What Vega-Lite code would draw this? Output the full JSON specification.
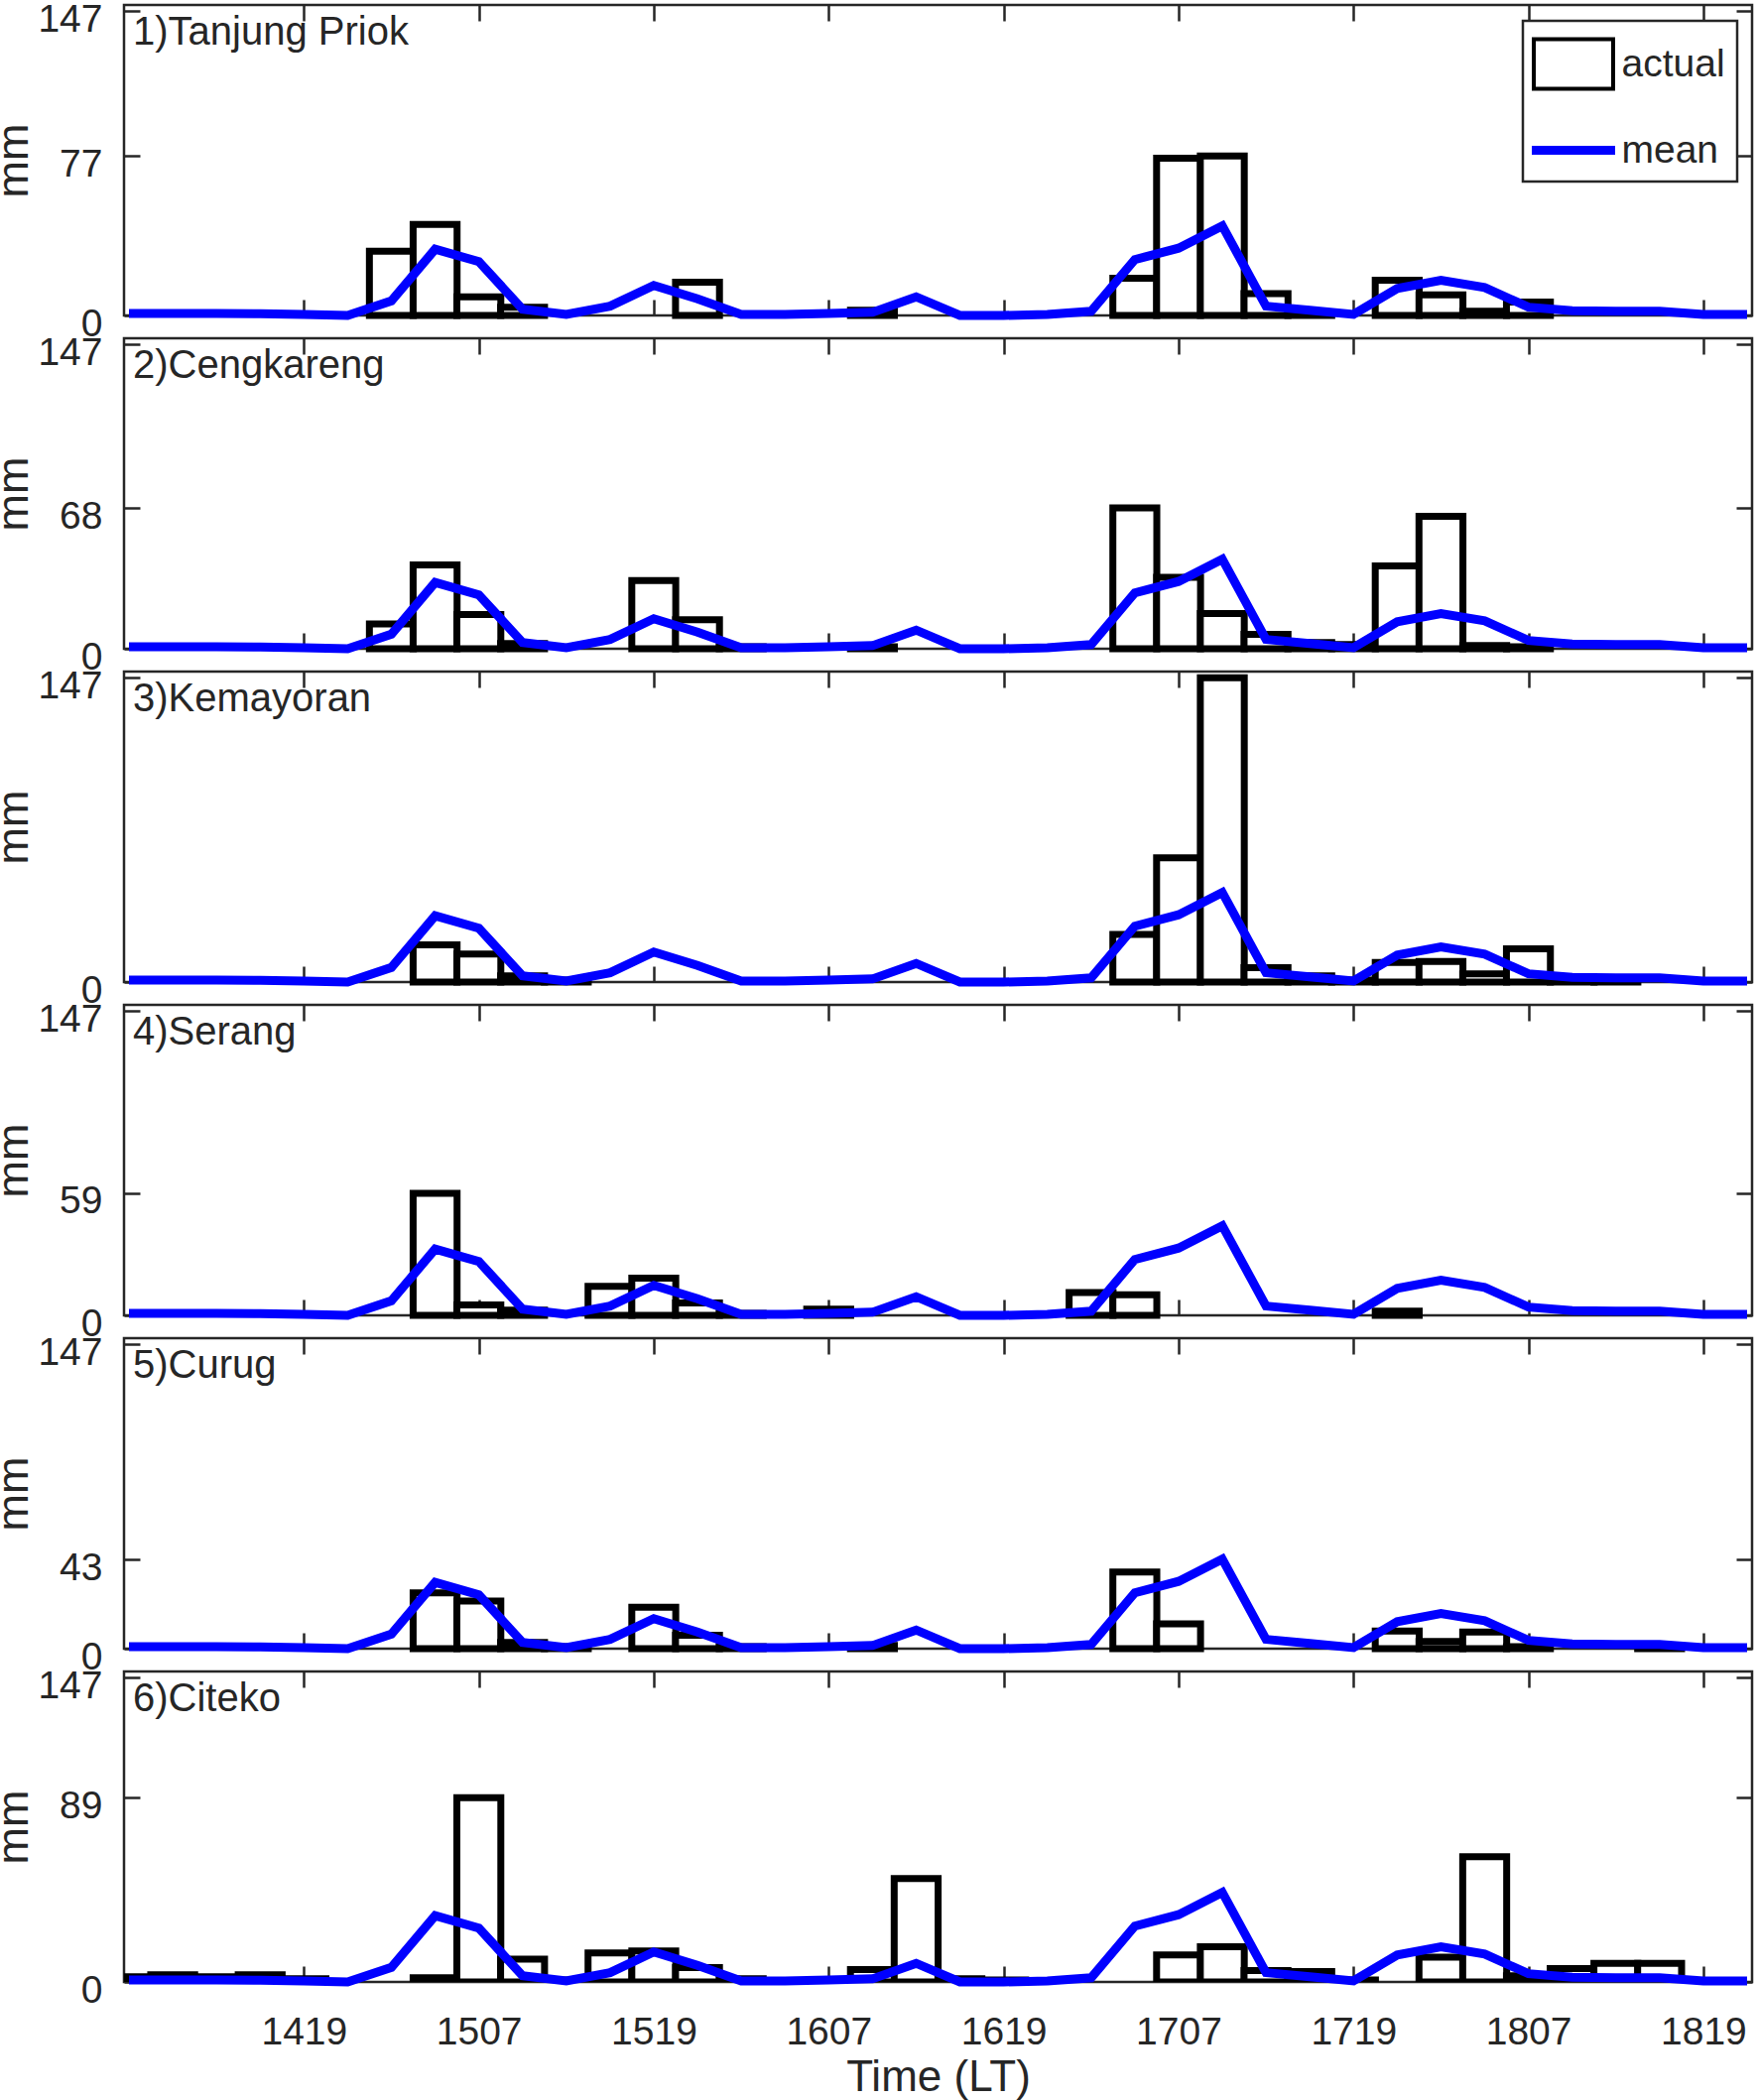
{
  "$schema": "https://vega.github.io/schema/vega-lite/v6.json",
  "background": "white",
  "padding": {"left": -10, "top": -1, "right": 0, "bottom": 0},
  "bounds": "flush",
  "spacing": 23,
  "config": {
    "font": "Liberation Sans",
    "view": {"stroke": "#262626", "strokeWidth": 2.5},
    "axis": {"domain": false, "grid": false, "tickSize": -16, "tickWidth": 2.5, "tickColor": "#262626", "labelFont": "Liberation Sans", "labelFontSize": 39, "labelColor": "#262626", "titleFont": "Liberation Sans", "titleFontSize": 45, "titleFontWeight": "normal", "titleColor": "#262626"},
    "axisLeft": {"labelPadding": 38, "labelOffset": 8, "titlePadding": 1},
    "axisBottom": {"labelPadding": 47, "titlePadding": 4, "titleFontSize": 44},
    "text": {"font": "Liberation Sans"}
  },
  "resolve": {"legend": {"stroke": "independent"}, "scale": {"stroke": "independent"}},
  "datasets": {
    "mean": [{"t":7,"v":1},{"t":10,"v":1},{"t":13,"v":1},{"t":16,"v":0.8},{"t":19,"v":0.5},{"t":22,"v":0},{"t":25,"v":7},{"t":28,"v":32},{"t":31,"v":26},{"t":34,"v":3},{"t":37,"v":0.5},{"t":40,"v":4.5},{"t":43,"v":14.5},{"t":46,"v":8},{"t":49,"v":0.5},{"t":52,"v":0.5},{"t":55,"v":1},{"t":58,"v":1.5},{"t":61,"v":9},{"t":64,"v":0},{"t":67,"v":0},{"t":70,"v":0.5},{"t":73,"v":2},{"t":76,"v":27},{"t":79,"v":32.5},{"t":82,"v":43.3},{"t":85,"v":4.5},{"t":88,"v":2.5},{"t":91,"v":0.5},{"t":94,"v":13},{"t":97,"v":17},{"t":100,"v":13.5},{"t":103,"v":4},{"t":106,"v":2.3},{"t":109,"v":2},{"t":112,"v":2},{"t":115,"v":0.5},{"t":118,"v":0.5}],
    "p1": [{"t":25,"v":31},{"t":28,"v":44},{"t":31,"v":9},{"t":34,"v":4},{"t":46,"v":16},{"t":58,"v":2.5},{"t":76,"v":18},{"t":79,"v":76},{"t":82,"v":77},{"t":85,"v":10.5},{"t":88,"v":1.5},{"t":94,"v":17},{"t":97,"v":10},{"t":100,"v":2},{"t":103,"v":6.5}],
    "p2": [{"t":25,"v":12},{"t":28,"v":40.5},{"t":31,"v":16.5},{"t":34,"v":2.5},{"t":43,"v":33},{"t":46,"v":14},{"t":49,"v":1},{"t":58,"v":1},{"t":76,"v":68},{"t":79,"v":34.5},{"t":82,"v":17},{"t":85,"v":7},{"t":88,"v":3},{"t":91,"v":2},{"t":94,"v":40},{"t":97,"v":64},{"t":100,"v":1.5},{"t":103,"v":1}],
    "p3": [{"t":28,"v":18},{"t":31,"v":13.5},{"t":34,"v":3},{"t":37,"v":1},{"t":76,"v":23},{"t":79,"v":60},{"t":82,"v":147},{"t":85,"v":7},{"t":88,"v":3},{"t":91,"v":1},{"t":94,"v":9.5},{"t":97,"v":10},{"t":100,"v":4},{"t":103,"v":16},{"t":106,"v":1},{"t":109,"v":1}],
    "p4": [{"t":28,"v":59},{"t":31,"v":5},{"t":34,"v":2.5},{"t":40,"v":14},{"t":43,"v":18},{"t":46,"v":6},{"t":49,"v":1},{"t":55,"v":3},{"t":73,"v":11},{"t":76,"v":10},{"t":94,"v":2}],
    "p5": [{"t":28,"v":27},{"t":31,"v":23},{"t":34,"v":3},{"t":37,"v":1},{"t":43,"v":20},{"t":46,"v":6.5},{"t":49,"v":1},{"t":58,"v":1.5},{"t":76,"v":37},{"t":79,"v":12},{"t":94,"v":8.5},{"t":97,"v":3.5},{"t":100,"v":8},{"t":103,"v":1},{"t":112,"v":0.5}],
    "p6": [{"t":7,"v":2.5},{"t":10,"v":3.5},{"t":13,"v":2.5},{"t":16,"v":3.5},{"t":19,"v":1.5},{"t":28,"v":2},{"t":31,"v":89},{"t":34,"v":11},{"t":37,"v":1},{"t":40,"v":14},{"t":43,"v":15},{"t":46,"v":7},{"t":49,"v":1.5},{"t":58,"v":6},{"t":61,"v":50},{"t":64,"v":1.5},{"t":67,"v":1},{"t":79,"v":13},{"t":82,"v":17},{"t":85,"v":5.5},{"t":88,"v":5},{"t":91,"v":1},{"t":97,"v":12},{"t":100,"v":60.5},{"t":103,"v":3},{"t":106,"v":6.5},{"t":109,"v":9},{"t":112,"v":9}]
  },
  "vconcat": [
    {
      "width": 1641, "height": 313,
      "resolve": {"axis": {"x": "independent", "y": "independent"}},
      "layer": [
        {"data": {"name": "p1"},
         "mark": {"type": "bar", "fill": "white", "strokeWidth": 7, "width": 44.3},
         "encoding": {
           "x": {"field": "t", "type": "quantitative", "scale": {"domain": [7, 118], "nice": false, "zero": false}, "axis": {"orient": "bottom", "values": [19,31,43,55,67,79,91,103,115], "labels": false, "title": null}},
           "y": {"field": "v", "type": "quantitative", "scale": {"domain": [0, 150], "nice": false}, "axis": {"orient": "left", "values": [0, 77, 147], "title": "mm"}},
           "stroke": {"datum": "actual", "type": "nominal", "scale": {"domain": ["actual", "mean"], "range": ["black", "#0000ff"]},
             "legend": {"title": null, "orient": "none", "legendX": 1410, "legendY": 16, "strokeColor": "#262626", "fillColor": "white", "padding": 11.5, "symbolOffset": 7.5, "symbolSize": 3600, "symbolStrokeWidth": 4, "labelFontSize": 39, "labelFont": "Liberation Sans", "labelColor": "#262626", "labelOffset": 16.5, "labelLimit": 400, "rowPadding": 22,
               "encoding": {"legend": {"strokeWidth": {"value": 2.5}}, "symbols": {"shape": {"value": {"expr": "datum.value === 'actual' ? 'M-1.333,-0.833H1.333V0.833H-1.333Z' : 'M-1.333,-0.08H1.333V0.08H-1.333Z'"}}, "fill": {"value": {"expr": "datum.value === 'actual' ? 'white' : '#0000ff'"}}}}}}
         }},
        {"data": {"name": "mean"},
         "mark": {"type": "line", "strokeWidth": 9},
         "encoding": {
           "x": {"field": "t", "type": "quantitative", "axis": {"orient": "top", "values": [19,31,43,55,67,79,91,103,115], "labels": false, "title": null}},
           "y": {"field": "v", "type": "quantitative", "axis": {"orient": "right", "values": [0, 77, 147], "labels": false, "title": null}},
           "stroke": {"datum": "mean", "type": "nominal"}
         }},
        {"data": {"values": [{"name": "1)Tanjung Priok"}]},
         "mark": {"type": "text", "align": "left", "baseline": "top", "dx": 4, "dy": 8, "fontSize": 40, "color": "#262626"},
         "encoding": {"x": {"datum": 7, "type": "quantitative", "axis": null}, "y": {"datum": 150, "type": "quantitative", "axis": null}, "text": {"field": "name"}}}
      ]
    },
    {
      "width": 1641, "height": 313,
      "resolve": {"axis": {"x": "independent", "y": "independent"}},
      "layer": [
        {"data": {"name": "p2"},
         "mark": {"type": "bar", "fill": "white", "stroke": "black", "strokeWidth": 7, "width": 44.3},
         "encoding": {
           "x": {"field": "t", "type": "quantitative", "scale": {"domain": [7, 118], "nice": false, "zero": false}, "axis": {"orient": "bottom", "values": [19,31,43,55,67,79,91,103,115], "labels": false, "title": null}},
           "y": {"field": "v", "type": "quantitative", "scale": {"domain": [0, 150], "nice": false}, "axis": {"orient": "left", "values": [0, 68, 147], "title": "mm"}}
         }},
        {"data": {"name": "mean"},
         "mark": {"type": "line", "stroke": "#0000ff", "strokeWidth": 9},
         "encoding": {
           "x": {"field": "t", "type": "quantitative", "axis": {"orient": "top", "values": [19,31,43,55,67,79,91,103,115], "labels": false, "title": null}},
           "y": {"field": "v", "type": "quantitative", "axis": {"orient": "right", "values": [0, 68, 147], "labels": false, "title": null}}
         }},
        {"data": {"values": [{"name": "2)Cengkareng"}]},
         "mark": {"type": "text", "align": "left", "baseline": "top", "dx": 4, "dy": 8, "fontSize": 40, "color": "#262626"},
         "encoding": {"x": {"datum": 7, "type": "quantitative", "axis": null}, "y": {"datum": 150, "type": "quantitative", "axis": null}, "text": {"field": "name"}}}
      ]
    },
    {
      "width": 1641, "height": 313,
      "resolve": {"axis": {"x": "independent", "y": "independent"}},
      "layer": [
        {"data": {"name": "p3"},
         "mark": {"type": "bar", "fill": "white", "stroke": "black", "strokeWidth": 7, "width": 44.3},
         "encoding": {
           "x": {"field": "t", "type": "quantitative", "scale": {"domain": [7, 118], "nice": false, "zero": false}, "axis": {"orient": "bottom", "values": [19,31,43,55,67,79,91,103,115], "labels": false, "title": null}},
           "y": {"field": "v", "type": "quantitative", "scale": {"domain": [0, 150], "nice": false}, "axis": {"orient": "left", "values": [0, 147], "title": "mm"}}
         }},
        {"data": {"name": "mean"},
         "mark": {"type": "line", "stroke": "#0000ff", "strokeWidth": 9},
         "encoding": {
           "x": {"field": "t", "type": "quantitative", "axis": {"orient": "top", "values": [19,31,43,55,67,79,91,103,115], "labels": false, "title": null}},
           "y": {"field": "v", "type": "quantitative", "axis": {"orient": "right", "values": [0, 147], "labels": false, "title": null}}
         }},
        {"data": {"values": [{"name": "3)Kemayoran"}]},
         "mark": {"type": "text", "align": "left", "baseline": "top", "dx": 4, "dy": 8, "fontSize": 40, "color": "#262626"},
         "encoding": {"x": {"datum": 7, "type": "quantitative", "axis": null}, "y": {"datum": 150, "type": "quantitative", "axis": null}, "text": {"field": "name"}}}
      ]
    },
    {
      "width": 1641, "height": 313,
      "resolve": {"axis": {"x": "independent", "y": "independent"}},
      "layer": [
        {"data": {"name": "p4"},
         "mark": {"type": "bar", "fill": "white", "stroke": "black", "strokeWidth": 7, "width": 44.3},
         "encoding": {
           "x": {"field": "t", "type": "quantitative", "scale": {"domain": [7, 118], "nice": false, "zero": false}, "axis": {"orient": "bottom", "values": [19,31,43,55,67,79,91,103,115], "labels": false, "title": null}},
           "y": {"field": "v", "type": "quantitative", "scale": {"domain": [0, 150], "nice": false}, "axis": {"orient": "left", "values": [0, 59, 147], "title": "mm"}}
         }},
        {"data": {"name": "mean"},
         "mark": {"type": "line", "stroke": "#0000ff", "strokeWidth": 9},
         "encoding": {
           "x": {"field": "t", "type": "quantitative", "axis": {"orient": "top", "values": [19,31,43,55,67,79,91,103,115], "labels": false, "title": null}},
           "y": {"field": "v", "type": "quantitative", "axis": {"orient": "right", "values": [0, 59, 147], "labels": false, "title": null}}
         }},
        {"data": {"values": [{"name": "4)Serang"}]},
         "mark": {"type": "text", "align": "left", "baseline": "top", "dx": 4, "dy": 8, "fontSize": 40, "color": "#262626"},
         "encoding": {"x": {"datum": 7, "type": "quantitative", "axis": null}, "y": {"datum": 150, "type": "quantitative", "axis": null}, "text": {"field": "name"}}}
      ]
    },
    {
      "width": 1641, "height": 313,
      "resolve": {"axis": {"x": "independent", "y": "independent"}},
      "layer": [
        {"data": {"name": "p5"},
         "mark": {"type": "bar", "fill": "white", "stroke": "black", "strokeWidth": 7, "width": 44.3},
         "encoding": {
           "x": {"field": "t", "type": "quantitative", "scale": {"domain": [7, 118], "nice": false, "zero": false}, "axis": {"orient": "bottom", "values": [19,31,43,55,67,79,91,103,115], "labels": false, "title": null}},
           "y": {"field": "v", "type": "quantitative", "scale": {"domain": [0, 150], "nice": false}, "axis": {"orient": "left", "values": [0, 43, 147], "title": "mm"}}
         }},
        {"data": {"name": "mean"},
         "mark": {"type": "line", "stroke": "#0000ff", "strokeWidth": 9},
         "encoding": {
           "x": {"field": "t", "type": "quantitative", "axis": {"orient": "top", "values": [19,31,43,55,67,79,91,103,115], "labels": false, "title": null}},
           "y": {"field": "v", "type": "quantitative", "axis": {"orient": "right", "values": [0, 43, 147], "labels": false, "title": null}}
         }},
        {"data": {"values": [{"name": "5)Curug"}]},
         "mark": {"type": "text", "align": "left", "baseline": "top", "dx": 4, "dy": 8, "fontSize": 40, "color": "#262626"},
         "encoding": {"x": {"datum": 7, "type": "quantitative", "axis": null}, "y": {"datum": 150, "type": "quantitative", "axis": null}, "text": {"field": "name"}}}
      ]
    },
    {
      "width": 1641, "height": 313,
      "resolve": {"axis": {"x": "independent", "y": "independent"}},
      "layer": [
        {"data": {"name": "p6"},
         "mark": {"type": "bar", "fill": "white", "stroke": "black", "strokeWidth": 7, "width": 44.3, "clip": true},
         "encoding": {
           "x": {"field": "t", "type": "quantitative", "scale": {"domain": [7, 118], "nice": false, "zero": false}, "axis": {"orient": "bottom", "values": [19,31,43,55,67,79,91,103,115], "labelExpr": "format(14 + floor(datum.value / 24), 'd') + format(datum.value % 24, '02d')", "title": "Time (LT)"}},
           "y": {"field": "v", "type": "quantitative", "scale": {"domain": [0, 150], "nice": false}, "axis": {"orient": "left", "values": [0, 89, 147], "title": "mm"}}
         }},
        {"data": {"name": "mean"},
         "mark": {"type": "line", "stroke": "#0000ff", "strokeWidth": 9},
         "encoding": {
           "x": {"field": "t", "type": "quantitative", "axis": {"orient": "top", "values": [19,31,43,55,67,79,91,103,115], "labels": false, "title": null}},
           "y": {"field": "v", "type": "quantitative", "axis": {"orient": "right", "values": [0, 89, 147], "labels": false, "title": null}}
         }},
        {"data": {"values": [{"name": "6)Citeko"}]},
         "mark": {"type": "text", "align": "left", "baseline": "top", "dx": 4, "dy": 8, "fontSize": 40, "color": "#262626"},
         "encoding": {"x": {"datum": 7, "type": "quantitative", "axis": null}, "y": {"datum": 150, "type": "quantitative", "axis": null}, "text": {"field": "name"}}}
      ]
    }
  ]
}
